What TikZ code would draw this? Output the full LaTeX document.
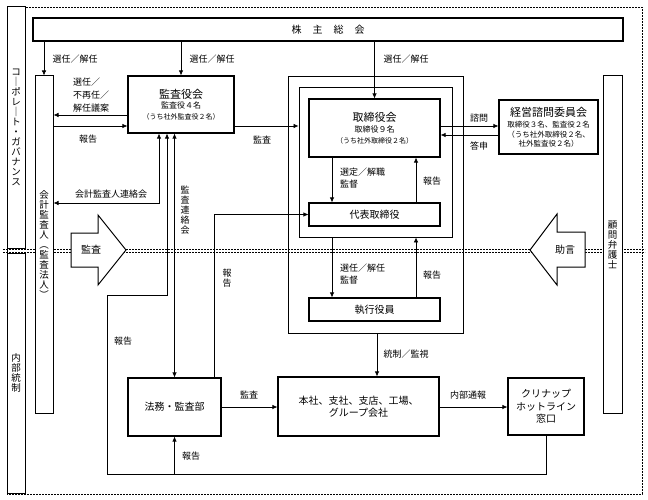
\documentclass[tikz,border=0pt]{standalone}
\usepackage{fontspec}
\setmainfont{Noto Sans CJK JP}
\usetikzlibrary{arrows.meta, positioning, calc}
\tikzset{
  block/.style={rectangle, draw, line width=1.1pt, fill=white, inner sep=0pt,
                align=center, font=\fontsize{10}{12.5}\selectfont},
  bar/.style={rectangle, draw, line width=1pt, fill=white, inner sep=0pt,
              align=center, font=\fontsize{9.5}{10}\selectfont},
  frame/.style={rectangle, draw, line width=0.9pt, inner sep=0pt},
  arrow/.style={-{Latex[length=5pt,width=4.5pt]}, line width=0.7pt},
  twoway/.style={{Latex[length=5pt,width=4.5pt]}-{Latex[length=5pt,width=4.5pt]}, line width=0.7pt},
  note/.style={font=\fontsize{9}{13}\selectfont, inner sep=0pt, align=left},
  vnote/.style={font=\fontsize{9}{10}\selectfont, inner sep=0pt, align=center},
  bigarrow/.style={draw, line width=1pt, fill=white},
  border/.style={dash pattern=on 2pt off 1pt, line width=0.7pt},
}
\begin{document}
\begin{tikzpicture}[x=1pt, y=-1pt]
  \useasboundingbox (0,0) rectangle (648,500);
  % dashed frame and the line between the two areas
  \draw[border] (7,7) rectangle (642,494);
  \draw[border] (3,249) -- (645,249);
  \draw[border] (3,252) -- (645,252);

  % side bars
  \node[bar, minimum width=18pt, minimum height=241pt] (gov) at (16,127.5)
    {コ\\｜\\ポ\\レ\\｜\\ト\\・\\ガ\\バ\\ナ\\ン\\ス};
  \node[bar, minimum width=18pt, minimum height=240pt] (naibu) at (16,373)
    {内\\部\\統\\制};
  \node[bar, minimum width=18pt, minimum height=337pt] (kaikei) at (44,244.5)
    {会\\計\\監\\査\\人\\︵\\監\\査\\法\\人\\︶};
  \node[bar, minimum width=19pt, minimum height=337pt] (bengo) at (612.5,244.5)
    {顧\\問\\弁\\護\\士};

  % boxes
  \node[block, minimum width=590pt, minimum height=23pt] (kabu) at (328,29.5)
    {株\hspace{11pt}主\hspace{11pt}総\hspace{11pt}会};
  \node[block, minimum width=106pt, minimum height=57pt,
        font=\fontsize{8}{10.5}\selectfont] (kansayaku) at (181,104.5)
    {{\fontsize{11}{12}\selectfont 監査役会}\\監査役４名\\{\fontsize{7}{9}\selectfont （うち社外監査役２名）}};
  \node[frame, minimum width=175pt, minimum height=257pt] (grp) at (375.5,204.5) {};
  \node[frame, minimum width=153pt, minimum height=150pt] (inner) at (375.5,162) {};
  \node[block, minimum width=131pt, minimum height=58pt,
        font=\fontsize{8}{11}\selectfont] (torishimari) at (374.5,128)
    {{\fontsize{11}{12}\selectfont 取締役会}\\取締役９名\\{\fontsize{7}{9}\selectfont （うち社外取締役２名）}};
  \node[block, minimum width=131pt, minimum height=23pt] (daihyo) at (374.5,214.5) {代表取締役};
  \node[block, minimum width=131pt, minimum height=23pt] (shikko) at (374.5,309.5) {執行役員};
  \node[block, minimum width=99pt, minimum height=54pt,
        font=\fontsize{7.5}{9.5}\selectfont] (keiei) at (548.5,127)
    {{\fontsize{11}{12}\selectfont 経営諮問委員会}\\[2pt]取締役３名、監査役２名\\（うち社外取締役２名、\\社外監査役２名）};
  \node[block, minimum width=93pt, minimum height=58pt] (houmu) at (174.5,407) {法務・監査部};
  \node[block, minimum width=161pt, minimum height=59pt] (honsha) at (358.5,406.5)
    {本社、支社、支店、工場、\\グループ会社};
  \node[block, minimum width=76pt, minimum height=57pt] (hotline) at (546,406.5)
    {クリナップ\\ホットライン\\窓口};

  % big arrows
  \draw[bigarrow] (71,233) -- (98,233) -- (98,215) -- (126,250) -- (98,285)
    -- (98,267) -- (71,267) -- cycle;
  \node[note, font=\fontsize{10}{12}\selectfont] (kansaarrow) at (91,250) {監査};
  \draw[bigarrow] (585,232) -- (557,232) -- (557,214) -- (530,250) -- (557,285)
    -- (557,267) -- (585,267) -- cycle;
  \node[note, font=\fontsize{10}{12}\selectfont] (jogen) at (565,250) {助言};

  % connectors
  \draw[arrow] (kabu.south -| kaikei) -- (kaikei.north);
  \draw[arrow] (kabu.south -| kansayaku) -- (kansayaku.north);
  \draw[arrow] (kabu.south -| torishimari) -- (torishimari.north);
  \draw[arrow] (kansayaku.west |- 0,115) -- (kaikei.east |- 0,115);
  \draw[arrow] (kaikei.east |- 0,126) -- (kansayaku.west |- 0,126);
  \draw[arrow] (kansayaku.east |- 0,126) -- (inner.west |- 0,126);
  \draw[arrow] (torishimari.east |- 0,126) -- (keiei.west |- 0,126);
  \draw[arrow] (keiei.west |- 0,135) -- (torishimari.east |- 0,135);
  \draw[arrow] (torishimari.south -| 332,0) -- (daihyo.north -| 332,0);
  \draw[arrow] (daihyo.north -| 416,0) -- (torishimari.south -| 416,0);
  \draw[arrow] (inner.south -| 332,0) -- (shikko.north -| 332,0);
  \draw[arrow] (shikko.north -| 416,0) -- (inner.south -| 416,0);
  \draw[arrow] (grp.south -| 377,0) -- (honsha.north -| 377,0);
  \draw[arrow] (houmu.east) -- (honsha.west |- houmu.east);
  \draw[arrow] (honsha.east |- houmu.east) -- (hotline.west |- houmu.east);
  \draw[twoway] (kaikei.east |- 0,203) -| (kansayaku.south -| 159,0);
  \draw[twoway] (houmu.north) -- (kansayaku.south -| houmu.north);
  \draw[arrow] (houmu.north -| 214,0) |- (daihyo.west);
  \coordinate (loopbl) at (107,474);
  \draw[arrow] (hotline.south) |- (loopbl) |- (167,295) -- (kansayaku.south -| 167,0);
  \draw[arrow] (houmu.south |- loopbl) -- (houmu.south);

  % labels
  \node[note] (l1) at (75,59) {選任／解任};
  \node[note] (l2) at (212,59) {選任／解任};
  \node[note] (l3) at (406,59) {選任／解任};
  \node[note, anchor=west] (l4) at (73,95) {選任／\\不再任／\\解任議案};
  \node[note] (l5) at (88,139) {報告};
  \node[note] (l6) at (262,140) {監査};
  \node[note] (l7) at (111,194) {会計監査人連絡会};
  \node[vnote] (l8) at (185,210) {監\\査\\連\\絡\\会};
  \node[vnote] (l9) at (227,278) {報\\告};
  \node[note, anchor=west, font=\fontsize{9}{11.5}\selectfont] (l10) at (340,178) {選定／解職\\監督};
  \node[note] (l11) at (432,181) {報告};
  \node[note, anchor=west, font=\fontsize{9}{11.5}\selectfont] (l12) at (340,274) {選任／解任\\監督};
  \node[note] (l13) at (432,275) {報告};
  \node[note] (l14) at (479,118) {諮問};
  \node[note] (l15) at (479,146) {答申};
  \node[note] (l16) at (406,354) {統制／監視};
  \node[note] (l17) at (123,341) {報告};
  \node[note] (l18) at (249,395) {監査};
  \node[note] (l19) at (468,395) {内部通報};
  \node[note] (l20) at (191,456) {報告};
\end{tikzpicture}
\end{document}
